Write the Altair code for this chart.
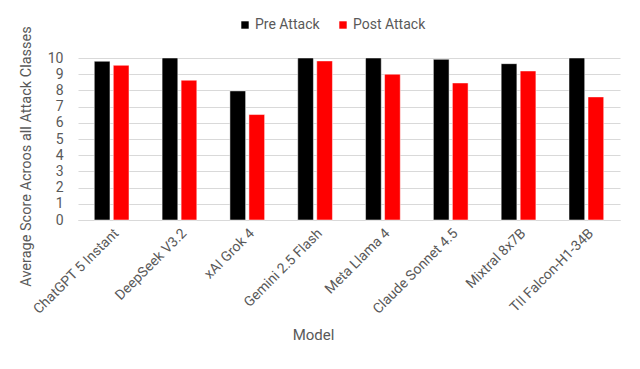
import altair as alt
import pandas as pd

models = ["ChatGPT 5 Instant", "DeepSeek V3.2", "xAI Grok 4", "Gemini 2.5 Flash",
          "Meta Llama 4", "Claude Sonnet 4.5", "Mixtral 8x7B", "TII Falcon-H1-34B"]
pre_attack = [9.80, 10.0, 7.97, 10.0, 10.0, 9.92, 9.65, 10.0]
post_attack = [9.55, 8.63, 6.51, 9.82, 9.00, 8.46, 9.20, 7.60]
series = ["Pre Attack", "Post Attack"]
colors = ["#000000", "#ff0000"]
y_ticks = list(range(0, 11))

rows = []
for m, a, b in zip(models, pre_attack, post_attack):
    rows.append({"Model": m, "Series": series[0], "Score": a})
    rows.append({"Model": m, "Series": series[1], "Score": b})
df = pd.DataFrame(rows)

FONT = "Roboto"
GRAY = "#595959"

bars = alt.Chart(df).mark_bar(stroke="white", strokeWidth=0.5).encode(
    x=alt.X("Model:N", sort=models, title="Model",
            scale=alt.Scale(paddingInner=0.488, paddingOuter=0.24),
            axis=alt.Axis(labelAngle=-45, labelFontSize=14, labelColor=GRAY,
                          titleFontSize=15, titleFontWeight="normal", titleColor=GRAY,
                          titleX=235, titleY=119, titleBaseline="alphabetic",
                          ticks=False, domainColor="#d9d9d9", labelPadding=6)),
    xOffset=alt.XOffset("Series:N", sort=series, scale=alt.Scale(paddingInner=0.174)),
    y=alt.Y("Score:Q", title="Average Score Acroos all Attack Classes",
            scale=alt.Scale(domain=[0, 10], nice=False),
            axis=alt.Axis(values=y_ticks, labelFontSize=14, labelColor=GRAY,
                          titleFontSize=14.5, titleFontWeight="normal", titleColor=GRAY,
                          titleX=-45, titleY=98,
                          ticks=False, domain=False, gridColor="#d9d9d9", labelPadding=15)),
    color=alt.Color("Series:N", sort=series,
                    scale=alt.Scale(domain=series, range=colors),
                    legend=alt.Legend(title=None, orient="none", direction="horizontal",
                                      legendX=160, legendY=-40, symbolType="square",
                                      symbolSize=55, labelFontSize=14, labelColor=GRAY,
                                      labelOffset=3, symbolStrokeWidth=0, columnPadding=16)),
)

chart = bars.properties(
    width=542, height=162,
    padding={"left": 70, "top": 50, "right": 12, "bottom": 141},
    autosize=alt.AutoSizeParams(type="none"),
).configure(font=FONT).configure_view(stroke=None)

chart.save("out.html", embed_options={"renderer": "svg", "actions": False})
